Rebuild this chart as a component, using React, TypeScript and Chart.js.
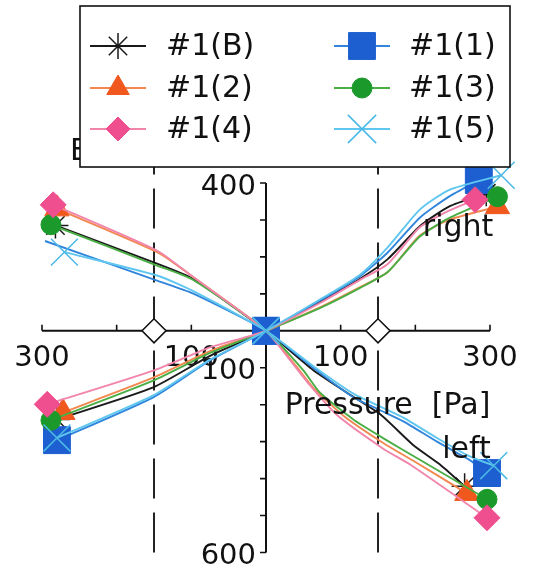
import React, { useEffect, useRef } from 'react';
import { Chart, registerables } from 'chart.js';
import { drawPoint } from 'chart.js/helpers';

Chart.register(...registerables);

// ---------- data ----------
const SERIES_NAMES = ['#1(B)', '#1(1)', '#1(2)', '#1(3)', '#1(4)', '#1(5)'];

// "right" curves (lower-left -> origin -> upper-right): pressure [Pa], displacement
const B_RIGHT_P = [-280, -151, -75, 0, 75, 126, 163, 206, 245, 295];
const B_RIGHT_D = [-240, -153, -68, 0, 82, 141, 194, 283, 336, 372];
const S1_RIGHT_P = [-280, -151, -75, 0, 75, 126, 163, 206, 245, 285];
const S1_RIGHT_D = [-296, -180, -80, 0, 85, 148, 212, 306, 363, 408];
const S2_RIGHT_P = [-272, -151, -75, 0, 75, 126, 163, 206, 245, 310];
const S2_RIGHT_D = [-221, -127, -55, 0, 66, 118, 159, 258, 300, 336];
const S3_RIGHT_P = [-288, -151, -75, 0, 75, 126, 163, 206, 245, 310];
const S3_RIGHT_D = [-242, -135, -60, 0, 64, 116, 159, 255, 305, 363];
const S4_RIGHT_P = [-293, -151, -75, 0, 75, 126, 163, 206, 245, 280];
const S4_RIGHT_D = [-199, -108, -45, 0, 78, 138, 181, 280, 325, 355];
const S5_RIGHT_P = [-280, -151, -75, 0, 75, 126, 163, 206, 245, 315];
const S5_RIGHT_D = [-290, -175, -78, 0, 88, 152, 226, 328, 381, 421];

// "left" curves (upper-left -> origin -> lower-right)
const B_LEFT_P = [-282, -145, -98, 0, 63, 108, 153, 197, 233, 266];
const B_LEFT_D = [285, 181, 141, 0, -106, -167, -226, -309, -362, -421];
const S1_LEFT_P = [-296, -145, -98, 0, 63, 117, 153, 184, 229, 273, 296];
const S1_LEFT_D = [243, 135, 101, 0, -100, -180, -215, -245, -300, -350, -385];
const S2_LEFT_P = [-280, -145, -98, 0, 40, 65, 105, 158, 200, 269];
const S2_LEFT_D = [330, 212, 146, 0, -95, -158, -232, -305, -355, -440];
const S3_LEFT_P = [-288, -145, -98, 0, 50, 72, 117, 159, 206, 296];
const S3_LEFT_D = [287, 176, 138, 0, -107, -167, -240, -293, -349, -456];
const S4_LEFT_P = [-285, -145, -98, 0, 32, 59, 95, 157, 193, 296];
const S4_LEFT_D = [341, 216, 146, 0, -79, -148, -228, -319, -362, -506];
const S5_LEFT_P = [-270, -145, -98, 0, 63, 117, 153, 184, 229, 273, 305];
const S5_LEFT_D = [213, 149, 108, 0, -95, -170, -205, -235, -290, -340, -365];

// reference marks on the pressure axis
const REF_P = [-150, 150];
const REF_D = [0, 0];

// axes
const X_MIN = -300;
const X_MAX = 300;
const Y_MIN = -600;
const Y_MAX = 400;
const X_TICKS = [-300, -200, -100, 100, 200, 300];
const X_LABEL_VALUES = [-300, -100, 100, 300];
const X_LABELS = ['300', '100', '100', '300'];
const Y_TICKS = [400, 300, 200, 100, -100, -200, -300, -400, -500, -600];
const Y_LABEL_VALUES = [400, -100, -600];
const Y_LABELS = ['400', '100', '600'];
const DASH_VALUES = [-150, 150];

const TEXT_RIGHT = 'right';
const TEXT_LEFT = 'left';
const TEXT_AXIS = 'Pressure  [Pa]';
const TEXT_HIDDEN = 'E';

// ---------- styles ----------
const FONT = '"DejaVu Sans", Verdana, sans-serif';
const INK = '#111111';

type Style = {
  marker: string; line: string; pointStyle: string; radius: number; legendRadius: number;
  borderWidth: number; origin: boolean; leftStart: boolean;
};
const STYLES: Style[] = [
  { marker: '#1a1a1a', line: '#1a1a1a', pointStyle: 'star', radius: 13, legendRadius: 13, borderWidth: 1.5, origin: false, leftStart: true },
  { marker: '#1d5fd0', line: '#3186dc', pointStyle: 'rect', radius: 19, legendRadius: 19, borderWidth: 1, origin: true, leftStart: false },
  { marker: '#f0581e', line: '#f2874f', pointStyle: 'triangle', radius: 14, legendRadius: 13, borderWidth: 1, origin: false, leftStart: true },
  { marker: '#1b9a2b', line: '#4aae45', pointStyle: 'circle', radius: 10, legendRadius: 10, borderWidth: 1, origin: false, leftStart: true },
  { marker: '#ef4f8f', line: '#f285ab', pointStyle: 'rectRot', radius: 13, legendRadius: 12, borderWidth: 1, origin: false, leftStart: true },
  { marker: '#4cb8e6', line: '#5ec6ef', pointStyle: 'crossRot', radius: 19, legendRadius: 20, borderWidth: 1.5, origin: true, leftStart: true },
];

const RIGHT_CURVES = [
  [B_RIGHT_P, B_RIGHT_D], [S1_RIGHT_P, S1_RIGHT_D], [S2_RIGHT_P, S2_RIGHT_D],
  [S3_RIGHT_P, S3_RIGHT_D], [S4_RIGHT_P, S4_RIGHT_D], [S5_RIGHT_P, S5_RIGHT_D],
];
const LEFT_CURVES = [
  [B_LEFT_P, B_LEFT_D], [S1_LEFT_P, S1_LEFT_D], [S2_LEFT_P, S2_LEFT_D],
  [S3_LEFT_P, S3_LEFT_D], [S4_LEFT_P, S4_LEFT_D], [S5_LEFT_P, S5_LEFT_D],
];

function buildDatasets() {
  const sets: any[] = [];
  SERIES_NAMES.forEach((name, i) => {
    const st = STYLES[i];
    const curves = [
      { pd: RIGHT_CURVES[i], start: true },
      { pd: LEFT_CURVES[i], start: st.leftStart },
    ];
    curves.forEach(({ pd, start }) => {
      const [P, D] = pd;
      const n = P.length;
      sets.push({
        label: name,
        data: P.map((x, k) => ({ x, y: D[k] })),
        showLine: true,
        borderColor: st.line,
        borderWidth: 1.9,
        backgroundColor: st.marker,
        pointStyle: st.pointStyle,
        pointBackgroundColor: st.marker,
        pointBorderColor: st.marker,
        pointBorderWidth: st.borderWidth,
        pointRadius: (c: any) => {
          const k = c.dataIndex;
          if (k === 0) return start ? st.radius : 0;
          if (k === n - 1) return st.radius;
          if (P[k] === 0 && st.origin) return st.radius;
          return 0;
        },
        pointHoverRadius: 0,
        tension: 0.2,
        clip: false,
        order: SERIES_NAMES.length - i + 1,
      });
    });
  });
  sets.push({
    label: 'ref',
    data: REF_P.map((x, k) => ({ x, y: REF_D[k] })),
    showLine: false,
    pointStyle: 'rectRot',
    pointRadius: 12,
    pointBackgroundColor: '#ffffff',
    pointBorderColor: INK,
    pointBorderWidth: 1.6,
    clip: false,
    order: 0,
  });
  return sets;
}

const axesPlugin = {
  id: 'centerAxes',
  beforeDatasetsDraw(chart: any) {
    const { ctx } = chart;
    const xs = chart.scales.x;
    const ys = chart.scales.y;
    const x0 = xs.getPixelForValue(0);
    const y0 = ys.getPixelForValue(0);
    ctx.save();
    ctx.strokeStyle = '#222';
    // dashed reference lines (pattern anchored at bottom)
    ctx.lineWidth = 2;
    ctx.setLineDash([40, 14]);
    DASH_VALUES.forEach((v) => {
      const px = xs.getPixelForValue(v);
      ctx.beginPath();
      ctx.moveTo(px, ys.getPixelForValue(Y_MIN));
      ctx.lineTo(px, ys.getPixelForValue(Y_MAX + 60));
      ctx.stroke();
    });
    ctx.setLineDash([]);
    ctx.strokeStyle = INK;
    ctx.lineWidth = 2;
    ctx.beginPath();
    ctx.moveTo(xs.getPixelForValue(X_MIN), y0);
    ctx.lineTo(xs.getPixelForValue(X_MAX), y0);
    ctx.moveTo(x0, ys.getPixelForValue(Y_MAX));
    ctx.lineTo(x0, ys.getPixelForValue(Y_MIN));
    ctx.stroke();
    ctx.lineWidth = 1.6;
    ctx.beginPath();
    X_TICKS.forEach((v) => {
      const px = xs.getPixelForValue(v);
      ctx.moveTo(px, y0);
      ctx.lineTo(px, y0 - 6);
    });
    Y_TICKS.forEach((v) => {
      const py = ys.getPixelForValue(v);
      ctx.moveTo(x0, py);
      ctx.lineTo(x0 - 6, py);
    });
    ctx.stroke();
    ctx.fillStyle = INK;
    ctx.font = `29px ${FONT}`;
    ctx.textAlign = 'center';
    ctx.textBaseline = 'middle';
    X_LABEL_VALUES.forEach((v, k) => {
      ctx.fillText(X_LABELS[k], xs.getPixelForValue(v), y0 + 28);
    });
    ctx.textAlign = 'right';
    Y_LABEL_VALUES.forEach((v, k) => {
      ctx.fillText(Y_LABELS[k], x0 - 10, ys.getPixelForValue(v) + 4);
    });
    ctx.restore();
  },
  afterDraw(chart: any) {
    const { ctx } = chart;
    const xs = chart.scales.x;
    const ys = chart.scales.y;
    ctx.save();
    ctx.fillStyle = INK;
    ctx.font = `30px ${FONT}`;
    ctx.textAlign = 'left';
    ctx.textBaseline = 'alphabetic';
    ctx.fillText(TEXT_RIGHT, xs.getPixelForValue(210), ys.getPixelForValue(256));
    ctx.fillText(TEXT_LEFT, xs.getPixelForValue(236), ys.getPixelForValue(-344));
    ctx.fillText(TEXT_AXIS, xs.getPixelForValue(25), ys.getPixelForValue(-225));
    ctx.fillText(TEXT_HIDDEN, 70, 160);

    // legend box
    const bx = 80, by = 6, bw = 430, bh = 161;
    ctx.fillStyle = '#ffffff';
    ctx.fillRect(bx, by, bw, bh);
    ctx.strokeStyle = INK;
    ctx.lineWidth = 1.6;
    ctx.strokeRect(bx, by, bw, bh);
    const colMarkerX = [118, 362];
    const colTextX = [166, 409];
    const rowY = [46, 88, 129];
    SERIES_NAMES.forEach((name, i) => {
      const st = STYLES[i];
      const col = i % 2;
      const row = Math.floor(i / 2);
      const cx = colMarkerX[col];
      const cy = rowY[row];
      ctx.strokeStyle = st.line;
      ctx.lineWidth = 1.8;
      ctx.beginPath();
      ctx.moveTo(cx - 28, cy);
      ctx.lineTo(cx + 28, cy);
      ctx.stroke();
      ctx.fillStyle = st.marker;
      ctx.strokeStyle = st.marker;
      ctx.lineWidth = st.borderWidth;
      drawPoint(ctx, { pointStyle: st.pointStyle as any, radius: st.legendRadius, rotation: 0, borderWidth: st.borderWidth }, cx, cy);
      ctx.fillStyle = INK;
      ctx.font = `30px ${FONT}`;
      ctx.textAlign = 'left';
      ctx.textBaseline = 'middle';
      ctx.fillText(name, colTextX[col], cy + 1);
    });
    ctx.restore();
  },
};

export default function App() {
  const ref = useRef<HTMLCanvasElement | null>(null);
  useEffect(() => {
    if (!ref.current) return;
    const chart = new Chart(ref.current, {
      type: 'scatter',
      data: { datasets: buildDatasets() },
      options: {
        animation: false,
        responsive: false,
        devicePixelRatio: 1,
        events: [],
        layout: { padding: { left: 42, right: 46, top: 183, bottom: 16 } },
        scales: {
          x: { type: 'linear', min: X_MIN, max: X_MAX, display: false },
          y: { type: 'linear', min: Y_MIN, max: Y_MAX, display: false },
        },
        plugins: { legend: { display: false }, tooltip: { enabled: false } },
      } as any,
      plugins: [axesPlugin],
    });
    return () => chart.destroy();
  }, []);
  return (
    <div style={{ position: 'absolute', left: 0, top: 0, width: 536, height: 573, background: '#fff' }}>
      <canvas ref={ref} width={536} height={573} style={{ display: 'block' }} />
    </div>
  );
}
